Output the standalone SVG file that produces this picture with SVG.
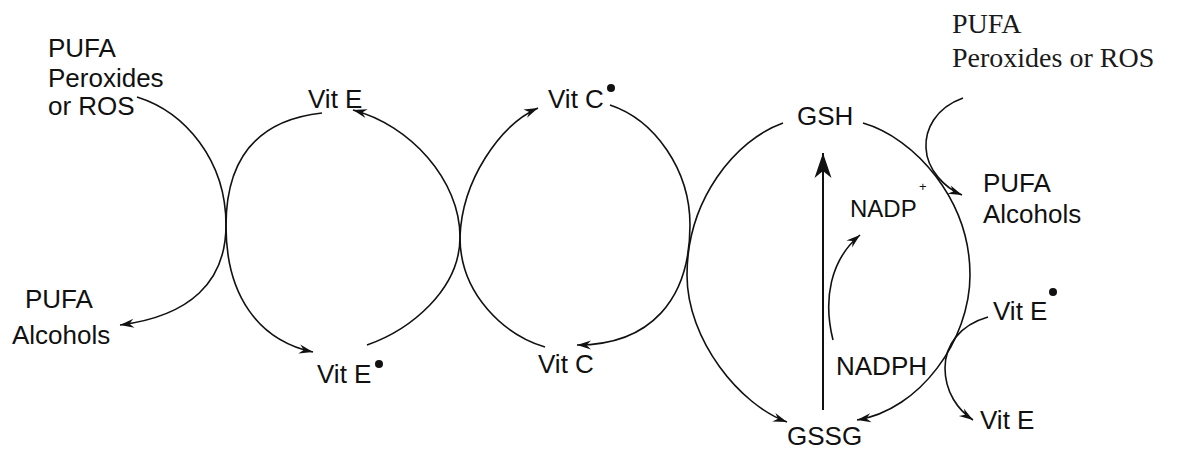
<svg xmlns="http://www.w3.org/2000/svg" width="1178" height="450" viewBox="0 0 1178 450">
  <style>
    .lbl { font-family: "Liberation Sans", Arial, sans-serif; font-size: 26px; fill: #111; }
    .serif { font-family: "Liberation Serif", "Times New Roman", serif; font-size: 28px; fill: #1a1a1a; }
    .sup { font-family: "Liberation Sans", Arial, sans-serif; font-size: 13px; fill: #111; }
    .rad { fill: #111; }
    .edge { fill: none; stroke: #111; stroke-width: 1.6; marker-end: url(#dart); }
    .big { fill: none; stroke: #111; stroke-width: 2; marker-end: url(#bigdart); }
  </style>
  <defs>
    <marker id="dart" viewBox="-15 -6 16 12" markerWidth="16" markerHeight="12" refX="0" refY="0" orient="auto" markerUnits="userSpaceOnUse">
      <path d="M0,0 L-14,-4.5 L-9.5,0 L-14,4.5 Z" fill="#111"/>
    </marker>
    <marker id="bigdart" viewBox="-27 -10 28 20" markerWidth="28" markerHeight="20" refX="0" refY="0" orient="auto" markerUnits="userSpaceOnUse">
      <path d="M0,0 L-25,-8.5 L-18,0 L-25,8.5 Z" fill="#111"/>
    </marker>
  </defs>

  <rect width="1178" height="450" fill="#ffffff"/>

  <!-- reaction arcs -->
  <g id="connectors">
    <!-- PUFA peroxides reduced to alcohols by Vit E -->
    <path class="edge" d="M137,97 C185,112 226,160 226,225 C226,282 190,316 120,325"/>
    <!-- Vit E cycle -->
    <path class="edge" d="M322,113 C258,120 226,158 226,226 C226,295 258,340 313,352"/>
    <path class="edge" d="M367,345 C410,330 460,290 460,237 C460,180 410,125 353,110"/>
    <!-- Vit C cycle -->
    <path class="edge" d="M545,347 C505,335 460,295 460,237 C462,180 500,125 538,108"/>
    <path class="edge" d="M610,105 C655,120 690,170 690,225 C690,300 650,345 577,345"/>
    <!-- glutathione cycle -->
    <path class="edge" d="M783,123 C735,140 687,200 687,275 C687,340 740,405 787,422"/>
    <path class="edge" d="M863,123 C915,138 970,200 970,275 C970,340 920,410 857,420"/>
    <!-- glutathione reductase: GSSG back to GSH -->
    <path class="big" d="M823,410 L823,153"/>
    <path class="edge" d="M833,340 C823,300 830,260 860,235"/>
    <!-- PUFA peroxides reduced to alcohols by GSH -->
    <path class="edge" d="M963,98 C935,108 925,130 926,148 C927,170 945,188 962,195"/>
    <!-- Vit E radical reduced by GSH -->
    <path class="edge" d="M988,317 C960,325 945,345 945,368 C945,392 958,410 973,420"/>
  </g>

  <g id="pufa-peroxides-left">
    <text class="lbl" x="48" y="57">PUFA</text>
    <text class="lbl" x="48" y="87">Peroxides</text>
    <text class="lbl" x="48" y="115">or ROS</text>
  </g>
  <g id="pufa-alcohols-left">
    <text class="lbl" x="25" y="308">PUFA</text>
    <text class="lbl" x="12" y="344">Alcohols</text>
  </g>
  <g id="vit-e-top">
    <text class="lbl" x="308" y="108">Vit E</text>
  </g>
  <g id="vit-e-radical-bottom">
    <text class="lbl" x="317" y="383">Vit E</text>
    <circle class="rad" cx="379" cy="364" r="4"/>
  </g>
  <g id="vit-c-radical-top">
    <text class="lbl" x="548" y="108">Vit C</text>
    <circle class="rad" cx="611" cy="88" r="4"/>
  </g>
  <g id="vit-c-bottom">
    <text class="lbl" x="538" y="373">Vit C</text>
  </g>
  <g id="gsh">
    <text class="lbl" x="797" y="125">GSH</text>
  </g>
  <g id="gssg">
    <text class="lbl" x="787" y="445">GSSG</text>
  </g>
  <g id="nadp">
    <text class="lbl" x="850" y="217" style="font-size:24px">NADP</text>
    <text class="sup" x="919" y="191">+</text>
  </g>
  <g id="nadph">
    <text class="lbl" x="836" y="375">NADPH</text>
  </g>
  <g id="pufa-peroxides-right">
    <text class="serif" x="952" y="33">PUFA</text>
    <text class="serif" x="952" y="67">Peroxides or ROS</text>
  </g>
  <g id="pufa-alcohols-right">
    <text class="lbl" x="983" y="192">PUFA</text>
    <text class="lbl" x="983" y="223">Alcohols</text>
  </g>
  <g id="vit-e-radical-right">
    <text class="lbl" x="993" y="320">Vit E</text>
    <circle class="rad" cx="1053" cy="292" r="4"/>
  </g>
  <g id="vit-e-right">
    <text class="lbl" x="980" y="429">Vit E</text>
  </g>
</svg>
